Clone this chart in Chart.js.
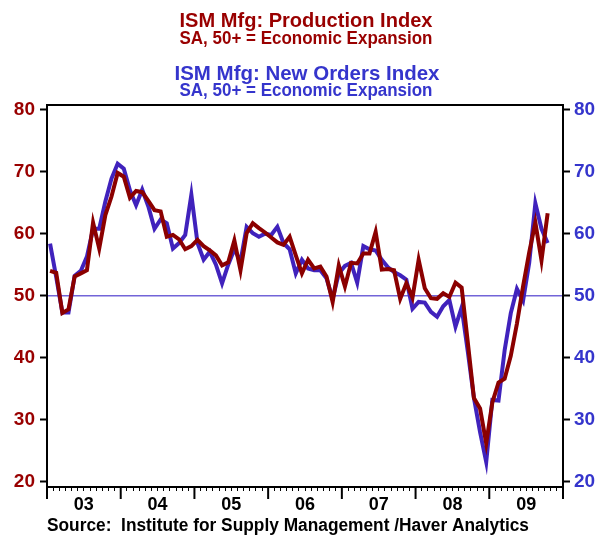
<!DOCTYPE html>
<html>
<head>
<meta charset="utf-8">
<script src="https://cdn.jsdelivr.net/npm/chart.js@4/dist/chart.umd.min.js"></script>
<style>
html,body{margin:0;padding:0;background:#fff;}
#c{display:block;}
</style>
</head>
<body>
<canvas id="c" width="604" height="535" style="width:604px;height:535px"></canvas>
<script>
// ---- data (monthly, Jan 2003 .. Oct 2009) ----
const years = ['2003','2004','2005','2006','2007','2008','2009'];
const monthNames = ['Jan','Feb','Mar','Apr','May','Jun','Jul','Aug','Sep','Oct','Nov','Dec'];
const yearLabels = ['03','04','05','06','07','08','09'];
const yTickValues = [20,30,40,50,60,70,80];

const production = [
  54.0,53.7,47.2,47.8,53.1,53.6,54.1,61.8,57.6,63.0,66.0,69.8,
  69.2,65.8,66.9,66.7,65.3,63.8,63.6,59.5,59.8,59.1,57.5,58.0,
  59.0,58.0,57.3,56.5,54.9,55.4,58.9,54.1,60.1,61.7,60.9,60.2,
  59.4,58.6,58.2,59.5,56.5,53.6,55.8,54.4,54.7,53.1,49.0,54.9,
  51.5,55.3,55.2,56.8,56.8,60.3,54.2,54.3,54.1,49.5,52.0,49.7,
  55.8,51.2,49.6,49.5,50.4,49.8,52.1,51.3,42.5,33.5,31.8,26.2,
  32.8,36.0,36.6,40.3,45.5,51.5,57.0,61.8,55.7,63.3
];
const newOrders = [
  58.4,53.0,47.3,47.3,53.2,54.0,56.3,60.8,60.8,65.2,68.9,71.3,
  70.5,67.0,64.6,67.1,64.4,60.8,62.3,61.7,57.6,58.5,59.8,66.3,
  58.5,55.8,57.1,55.0,52.0,55.0,57.5,55.5,61.1,60.1,59.5,60.0,
  59.8,61.1,58.5,57.5,53.6,55.8,54.4,54.1,54.1,52.8,49.5,53.6,
  54.8,55.3,52.1,58.0,57.5,57.3,55.8,54.6,53.8,53.3,52.6,47.9,
  49.0,48.9,47.4,46.6,48.3,49.3,45.0,48.1,41.0,33.5,28.0,23.2,
  33.2,33.1,41.2,47.2,51.1,49.2,55.3,64.9,60.8,58.5
];

// category labels (one per month)
const categories = [];
years.forEach(y => monthNames.forEach(m => categories.push(m + ' ' + y)));
categories.length = production.length;

const RED = '#8B0000';
const RED_TXT = '#990000';
const BLUE = '#4022BC';
const BLUE_TXT = '#3535CC';
const REF = '#7264D8';
const FONT = '"Liberation Sans", Arial, sans-serif';

function fitText(ctx, text, x, baseline, font, width, color, align) {
  ctx.save();
  ctx.font = font;
  const w = ctx.measureText(text).width;
  const sx = width / w;
  ctx.translate(x, baseline);
  ctx.scale(sx, 1);
  ctx.textAlign = align;
  ctx.textBaseline = 'alphabetic';
  ctx.fillStyle = color;
  ctx.fillText(text, 0, 0);
  ctx.restore();
}

const decor = {
  id: 'decor',
  beforeDatasetsDraw(chart) {
    const ctx = chart.ctx, a = chart.chartArea, ys = chart.scales.y;
    const y50 = ys.getPixelForValue(50);
    ctx.save();
    ctx.strokeStyle = REF;
    ctx.lineWidth = 1.5;
    ctx.beginPath();
    ctx.moveTo(a.left, y50);
    ctx.lineTo(a.right, y50);
    ctx.stroke();
    ctx.restore();
  },
  afterDraw(chart) {
    const ctx = chart.ctx, a = chart.chartArea, xs = chart.scales.x;
    ctx.save();
    ctx.strokeStyle = '#000';
    ctx.lineWidth = 2;
    ctx.strokeRect(a.left, a.top, a.right - a.left, a.bottom - a.top);
    // major (year) ticks
    for (let k = 0; k <= years.length; k++) {
      const px = xs.getPixelForValue(-0.5 + 12 * k);
      ctx.beginPath();
      ctx.moveTo(px, a.bottom);
      ctx.lineTo(px, a.bottom + 12);
      ctx.stroke();
    }
    ctx.restore();
    // titles
    fitText(ctx, 'ISM Mfg: Production Index', 306, 27, 'bold 21px ' + FONT, 253, RED_TXT, 'center');
    fitText(ctx, 'SA, 50+ = Economic Expansion', 306, 44, 'bold 18px ' + FONT, 253, RED_TXT, 'center');
    fitText(ctx, 'ISM Mfg: New Orders Index', 307, 80, 'bold 21px ' + FONT, 265, BLUE_TXT, 'center');
    fitText(ctx, 'SA, 50+ = Economic Expansion', 306, 96, 'bold 18px ' + FONT, 253, BLUE_TXT, 'center');
    fitText(ctx, 'Source:  Institute for Supply Management /Haver Analytics', 47, 531, 'bold 18px ' + FONT, 482, '#000', 'left');
  }
};

const yTicks = s => { s.ticks = yTickValues.map(v => ({ value: v })); };

new Chart(document.getElementById('c').getContext('2d'), {
  type: 'line',
  data: {
    labels: categories,
    datasets: [
      {
        label: 'ISM Mfg: Production Index',
        data: production.map((v, i) => ({ x: i, y: v })),
        borderColor: RED, borderWidth: 4, pointRadius: 0, tension: 0,
        yAxisID: 'y', order: 0, fill: false
      },
      {
        label: 'ISM Mfg: New Orders Index',
        data: newOrders.map((v, i) => ({ x: i, y: v })),
        borderColor: BLUE, borderWidth: 4, pointRadius: 0, tension: 0,
        yAxisID: 'y2', order: 1, fill: false
      }
    ]
  },
  options: {
    responsive: false,
    animation: false,
    events: [],
    layout: { padding: { top: 105, left: 0, right: 0, bottom: 0 } },
    plugins: { legend: { display: false }, title: { display: false }, tooltip: { enabled: false } },
    scales: {
      x: {
        type: 'linear', min: -0.5, max: 83.5,
        afterBuildTicks: s => {
          const t = [];
          for (let m = 0; m <= 84; m++) t.push({ value: m - 0.5 });
          s.ticks = t;
        },
        ticks: {
          autoSkip: false, maxRotation: 0, minRotation: 0, padding: 3,
          color: '#000', font: { family: FONT, size: 18, weight: 'bold' },
          callback: v => {
            const m = Math.round(v + 0.5);
            return (m % 12 === 6) ? yearLabels[Math.floor(m / 12)] : '';
          }
        },
        grid: { drawOnChartArea: false, tickLength: 4, tickColor: '#000', tickWidth: 1 },
        border: { display: true, color: '#000', width: 2 },
        afterFit: s => { s.height = 48; }
      },
      y: {
        position: 'left', min: 19.15, max: 80.76,
        afterBuildTicks: yTicks,
        ticks: { color: RED_TXT, padding: 5, font: { family: FONT, size: 19, weight: 'bold' } },
        grid: { drawOnChartArea: false, tickLength: 7, tickColor: '#000', tickWidth: 2 },
        border: { display: true, color: '#000', width: 2 },
        afterFit: s => { s.width = 47; }
      },
      y2: {
        position: 'right', min: 19.15, max: 80.76,
        afterBuildTicks: yTicks,
        ticks: { color: BLUE_TXT, padding: 4, font: { family: FONT, size: 19, weight: 'bold' } },
        grid: { drawOnChartArea: false, tickLength: 7, tickColor: '#000', tickWidth: 2 },
        border: { display: true, color: '#000', width: 2 },
        afterFit: s => { s.width = 41; }
      }
    }
  },
  plugins: [decor]
});
</script>
</body>
</html>
